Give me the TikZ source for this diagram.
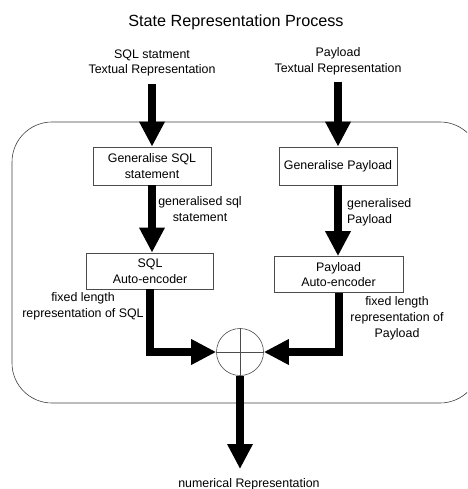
\documentclass[tikz,border=0pt]{standalone}
\usepackage{fontspec}
\setmainfont{Liberation Sans}
\usetikzlibrary{arrows.meta,calc}
\begin{document}
\begin{tikzpicture}[x=1pt,y=-1pt,
  box/.style={draw=black!70,line width=0.7pt,inner sep=0pt,align=center,font=\fontsize{12.4}{15.5}\selectfont},
  lbl/.style={inner sep=0pt,align=center,font=\fontsize{12.4}{15.8}\selectfont},
  fat/.style={line width=8pt,-{Triangle[width=24pt,length=25pt]}},
  frame/.style={draw=black!75,line width=0.6pt,rounded corners=40pt}]
\useasboundingbox (0,0) rectangle (467,489);
\clip (0,0) rectangle (467,489);
\node[lbl,font=\fontsize{16.2}{19}\selectfont] (title) at (236,22) {State Representation Process};
\node[lbl] (sqlin) at (152,63) {SQL statment\\Textual Representation};
\node[lbl] (payin) at (338,61) {Payload\\Textual Representation};
\draw[frame] (12,122) rectangle (480,403);
\node[box,minimum width=118pt,minimum height=38pt] (gsql) at (152,166) {Generalise SQL\\statement};
\node[box,minimum width=118pt,minimum height=38pt] (gpay) at (338,166) {Generalise Payload};
\node[box,minimum width=127pt,minimum height=36pt] (sqlae) at (150,271) {SQL\\Auto-encoder};
\node[box,minimum width=129pt,minimum height=36pt] (payae) at (338.5,274.5) {Payload\\Auto-encoder};
\node[circle,draw=black!70,line width=0.6pt,minimum size=47pt,inner sep=0pt] (sum) at (240,352) {};
\draw[black!70,line width=0.6pt] (sum.north) -- (sum.south) (sum.west) -- (sum.east);
\node[lbl] (out) at (249,484) {numerical Representation};
\node[lbl] (lgs) at (200,209) {generalised sql\\statement};
\node[lbl,anchor=west,align=left] (lgp) at (347,212) {generalised\\Payload};
\node[lbl] (lfs) at (83,306) {fixed length\\representation of SQL};
\node[lbl] (lfp) at (397,318) {fixed length\\representation of\\Payload};
\draw[fat] (sqlin.south) ++(0,7) -- (sqlin.south |- gsql.north);
\draw[fat] (payin.south) ++(0,7) -- (payin.south |- gpay.north);
\draw[fat] (gsql.south) -- (gsql.south |- sqlae.north);
\draw[fat] (gpay.south) -- (gpay.south |- payae.north);
\draw[fat] (sqlae.south) |- (sum.west);
\draw[fat] (payae.south) |- (sum.east);
\draw[fat,shorten >=9pt] (sum.south) -- (sum.south |- out.north);
\end{tikzpicture}
\end{document}
